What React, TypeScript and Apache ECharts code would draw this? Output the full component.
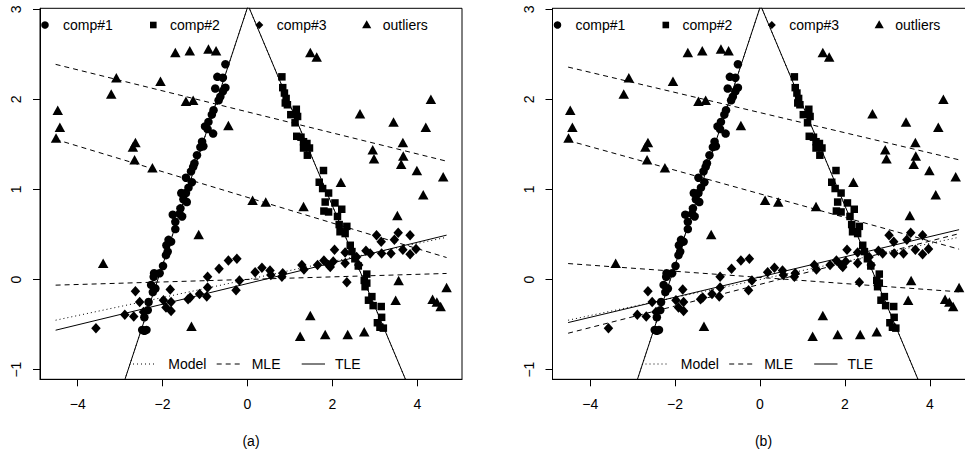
import React, { useEffect, useRef } from "react";
import * as echarts from "echarts";

// ---------- data ----------
const comp1: number[][] = [
  [-0.52, 2.39], [-0.71, 2.25], [-0.58, 2.24], [-0.76, 2.12], [-0.52, 2.13], [-0.58, 2.09],
  [-0.64, 2.03], [-0.68, 1.99], [-0.8, 1.88], [-0.84, 1.83], [-0.92, 1.75], [-1.0, 1.7],
  [-0.94, 1.67], [-0.81, 1.62], [-1.07, 1.53], [-1.04, 1.48], [-1.11, 1.47], [-1.19, 1.38],
  [-1.25, 1.29], [-1.28, 1.25], [-1.33, 1.2], [-1.45, 1.13], [-1.31, 1.08], [-1.39, 1.02],
  [-1.45, 0.96], [-1.56, 0.96], [-1.51, 0.89], [-1.43, 0.86], [-1.58, 0.79], [-1.6, 0.73],
  [-1.76, 0.72], [-1.54, 0.7], [-1.7, 0.64], [-1.7, 0.56], [-1.86, 0.44], [-1.8, 0.42],
  [-1.91, 0.38], [-1.88, 0.31], [-1.92, 0.27], [-1.99, 0.15], [-2.07, 0.07], [-2.2, 0.07],
  [-2.21, 0.03], [-2.27, -0.06], [-2.17, -0.1], [-2.23, -0.14], [-2.33, -0.25], [-2.35, -0.34],
  [-2.43, -0.42], [-2.48, -0.56], [-2.38, -0.56], [-2.43, -0.57],
];

const comp2: number[][] = [
  [0.81, 2.25], [0.83, 2.13], [0.87, 2.07], [0.91, 2.01], [0.89, 1.96], [0.94, 1.94],
  [1.15, 1.89], [1.02, 1.83], [1.18, 1.81], [1.12, 1.74], [1.16, 1.59], [1.26, 1.58],
  [1.32, 1.53], [1.4, 1.51], [1.32, 1.46], [1.46, 1.46], [1.41, 1.38], [1.79, 1.21],
  [1.69, 1.08], [1.77, 1.01], [1.91, 0.96], [1.83, 0.86], [2.06, 0.85], [1.8, 0.76],
  [1.91, 0.75], [2.22, 0.78], [2.12, 0.7], [2.16, 0.61], [2.34, 0.59], [2.18, 0.53],
  [2.3, 0.51], [2.42, 0.38], [2.46, 0.31], [2.53, 0.23], [2.61, 0.15], [2.81, 0.06],
  [2.75, -0.01], [2.81, -0.04], [2.77, -0.08], [2.85, -0.23], [2.93, -0.19], [2.96, -0.29],
  [3.15, -0.3], [3.16, -0.42], [3.06, -0.48], [3.12, -0.53], [3.2, -0.54],
];

const comp3: number[][] = [
  [-3.57, -0.54], [-2.89, -0.39], [-2.68, -0.41], [-2.64, -0.13], [-2.54, -0.25], [-2.45, -0.36],
  [-1.98, -0.23], [-1.92, -0.31], [-1.82, -0.11], [-1.8, -0.25], [-1.8, -0.35], [-1.4, -0.22],
  [-1.35, -0.2], [-1.13, -0.16], [-0.96, -0.19], [-0.94, -0.09], [-0.94, 0.03], [-0.67, 0.12],
  [-0.45, 0.21], [-0.25, 0.23], [-0.27, -0.12], [-0.19, -0.01], [0.18, 0.08], [0.34, 0.13],
  [0.53, 0.1], [0.55, 0.05], [0.83, 0.07], [0.81, 0.03], [1.28, 0.16], [1.33, 0.11],
  [1.65, 0.16], [1.8, 0.21], [1.95, 0.14], [2.02, 0.2], [2.05, 0.33], [2.3, 0.18],
  [2.3, 0.3], [2.34, -0.03], [2.57, 0.25], [2.79, 0.32], [2.89, 0.29], [3.04, 0.49],
  [3.15, 0.42], [3.16, 0.29], [3.38, 0.29], [3.46, 0.44], [3.55, 0.52], [3.66, 0.33],
  [3.83, 0.49], [3.83, 0.28], [3.97, 0.34], [1.91, 0.16], [2.62, 0.16],
];

const outliers: number[][] = [
  [-1.7, 2.52], [-1.36, 2.54], [-0.92, 2.56], [-0.74, 2.54], [1.48, 2.52], [1.63, 2.47],
  [-3.09, 2.24], [-3.21, 2.06], [-2.05, 2.2], [-1.45, 1.98], [-1.28, 1.99], [-4.47, 1.88],
  [-4.42, 1.69], [-4.51, 1.57], [-2.64, 1.52], [-2.7, 1.47], [-2.66, 1.33], [-2.24, 1.24],
  [-0.45, 1.71], [0.12, 0.88], [0.43, 0.86], [1.32, 0.81], [2.2, 1.08], [2.65, 1.84],
  [3.44, 1.75], [2.95, 1.44], [2.98, 1.34], [3.66, 1.52], [3.67, 1.37], [3.62, 1.28],
  [4.32, 2.0], [4.2, 1.69], [3.99, 1.21], [4.61, 1.14], [4.14, 0.94], [3.53, 0.71],
  [-3.4, 0.18], [-1.15, 0.5], [-1.32, -0.52], [1.24, -0.63], [1.48, -0.4], [1.83, -0.61],
  [2.36, -0.61], [2.75, -0.58], [3.56, -0.01], [3.49, -0.23], [4.36, -0.22], [4.46, -0.25],
  [4.55, -0.3], [4.69, -0.09],
];

const xTicks = [-4, -2, 0, 2, 4];
const xTickLabels = ["\u22124", "\u22122", "0", "2", "4"];
const yTicks = [-1, 0, 1, 2, 3];
const yTickLabels = ["\u22121", "0", "1", "2", "3"];
const xRange = [-4.888, 5.053];
const yRange = [-1.108, 3.011];
const fitSpan = [-4.52, 4.69];
const comp1Span = [-3.6, 0.6];
const comp2Span = [-0.6, 4.3];

// fitted lines: [intercept, slope]
const comp1Line = [3.02, 1.43];
const comp2Line = [3.06, -1.12];
const modelComp3 = [0, 0.1];
const mleA = [[1.861, -0.1167], [0.912, -0.1424], [0.001, 0.0141]];
const tleA = [-0.045, 0.1146];
const mleB = [[1.853, -0.1118], [0.951, -0.131], [0.023, -0.0341], [-0.054, 0.12]];
const tleB = [0.028, 0.112];

const panelLabels = ["(a)", "(b)"];
const pointLegend = ["comp#1", "comp#2", "comp#3", "outliers"];
const lineLegend = ["Model", "MLE", "TLE"];

const FONT = "Liberation Sans, Arial, Helvetica, sans-serif";
const DOTTED = [1, 3];
const DASHED = [5, 4];

const GRID_W = 422;
const GRID_H = 371;
const GRID_TOP = 8.3;
const GRID_LEFTS = [40, 552.5];

export default function App() {
  const ref = useRef<HTMLDivElement>(null);

  useEffect(() => {
    if (!ref.current) return;
    document.body.style.margin = "0";
    document.body.style.background = "#fff";
    const chart = echarts.init(ref.current, null, { renderer: "svg" });

    const seg = (coef: number[], span: number[], p: number, dash: any) => ({
      type: "line",
      xAxisIndex: p,
      yAxisIndex: p,
      data: span.map((x) => [x, coef[0] + coef[1] * x]),
      symbol: "none",
      showSymbol: false,
      silent: true,
      clip: true,
      lineStyle: { color: "#000", width: 1, type: dash, opacity: 1 },
      z: 3,
    });

    const scatter = (data: number[][], p: number, symbol: string, size: any) => ({
      type: "scatter",
      xAxisIndex: p,
      yAxisIndex: p,
      data,
      symbol,
      symbolSize: size,
      silent: true,
      itemStyle: { color: "#000", opacity: 1 },
      z: 4,
    });

    const series: any[] = [];
    [0, 1].forEach((p) => {
      series.push(scatter(comp1, p, "circle", 8.5));
      series.push(scatter(comp2, p, "rect", 7.5));
      series.push(scatter(comp3, p, "diamond", [9.5, 10.5]));
      series.push(scatter(outliers, p, "triangle", [10.5, 9.5]));
      series.push(seg(comp1Line, comp1Span, p, DOTTED));
      series.push(seg(comp2Line, comp2Span, p, DOTTED));
      series.push(seg(comp1Line, comp1Span, p, "solid"));
      series.push(seg(comp2Line, comp2Span, p, "solid"));
      series.push(seg(modelComp3, fitSpan, p, DOTTED));
      const mle = p === 0 ? mleA : mleB;
      mle.forEach((c) => series.push(seg(c, fitSpan, p, DASHED)));
      series.push(seg(p === 0 ? tleA : tleB, fitSpan, p, "solid"));
    });

    const graphic: any[] = [];
    GRID_LEFTS.forEach((gl, p) => {
      const dx = gl - 40;
      const cy = 25;
      // top legend markers
      graphic.push({ type: "circle", shape: { cx: 45 + dx, cy, r: 3.8 }, style: { fill: "#000" } });
      graphic.push({ type: "rect", shape: { x: 150 + dx, y: cy - 3.3, width: 6.6, height: 6.6 }, style: { fill: "#000" } });
      graphic.push({
        type: "polygon",
        shape: { points: [[259.3 + dx, cy - 4], [263.3 + dx, cy], [259.3 + dx, cy + 4], [255.3 + dx, cy]] },
        style: { fill: "#000" },
      });
      graphic.push({
        type: "polygon",
        shape: { points: [[366.7 + dx, cy - 4.8], [371.3 + dx, cy + 3.2], [362.1 + dx, cy + 3.2]] },
        style: { fill: "#000" },
      });
      const tx = [63, 170, 276.7, 382.7];
      pointLegend.forEach((t, i) =>
        graphic.push({
          type: "text",
          x: tx[i] + dx,
          y: cy,
          style: { text: t, fill: "#000", fontSize: 14, fontFamily: FONT, fontWeight: "normal", align: "left", verticalAlign: "middle" },
        })
      );
      // bottom legend
      const ly = 364;
      const segs = [[133, 155, DOTTED], [216.7, 243.3, DASHED], [301.7, 325, null]];
      segs.forEach((s: any) =>
        graphic.push({
          type: "line",
          shape: { x1: s[0] + dx, y1: ly, x2: s[1] + dx, y2: ly },
          style: { stroke: "#000", lineWidth: 1, lineDash: s[2] || undefined },
        })
      );
      const lx = [168.3, 251.7, 335];
      lineLegend.forEach((t, i) =>
        graphic.push({
          type: "text",
          x: lx[i] + dx,
          y: ly,
          style: { text: t, fill: "#000", fontSize: 14, fontFamily: FONT, fontWeight: "normal", align: "left", verticalAlign: "middle" },
        })
      );
      graphic.push({
        type: "text",
        x: gl + GRID_W / 2,
        y: 440.7,
        style: { text: panelLabels[p], fill: "#000", fontSize: 14, fontFamily: FONT, align: "center", verticalAlign: "middle" },
      });
    });

    const grids = GRID_LEFTS.map((l) => ({
      left: l,
      top: GRID_TOP,
      width: GRID_W,
      height: GRID_H,
      show: true,
      borderColor: "#000",
      borderWidth: 1,
      backgroundColor: "transparent",
      containLabel: false,
    }));

    const xAxes = [0, 1].map((p) => ({
      type: "value",
      gridIndex: p,
      min: xRange[0],
      max: xRange[1],
      axisLine: { show: true, onZero: false, lineStyle: { color: "#000", width: 1 } },
      axisTick: { show: true, length: 7, customValues: xTicks, lineStyle: { color: "#000" } },
      axisLabel: {
        show: true,
        customValues: xTicks,
        margin: 18,
        fontSize: 14,
        fontFamily: FONT,
        color: "#000",
        formatter: (v: number) => xTickLabels[xTicks.indexOf(v)] ?? "",
      },
      splitLine: { show: false },
    }));

    const yAxes = [0, 1].map((p) => ({
      type: "value",
      gridIndex: p,
      min: yRange[0],
      max: yRange[1],
      axisLine: { show: true, onZero: false, lineStyle: { color: "#000", width: 1 } },
      axisTick: { show: true, length: 7, customValues: yTicks, lineStyle: { color: "#000" } },
      axisLabel: {
        show: true,
        customValues: yTicks,
        rotate: 90,
        margin: 17,
        fontSize: 14,
        fontFamily: FONT,
        color: "#000",
        formatter: (v: number) => yTickLabels[yTicks.indexOf(v)] ?? "",
      },
      splitLine: { show: false },
    }));

    chart.setOption({
      animation: false,
      backgroundColor: "#fff",
      grid: grids,
      xAxis: xAxes,
      yAxis: yAxes,
      series,
      graphic,
    });

    return () => chart.dispose();
  }, []);

  return (
    <div style={{ position: "fixed", left: 0, top: 0, width: 965, height: 452, overflow: "hidden", background: "#fff" }}>
      <div ref={ref} style={{ width: 1000, height: 452 }} />
    </div>
  );
}
